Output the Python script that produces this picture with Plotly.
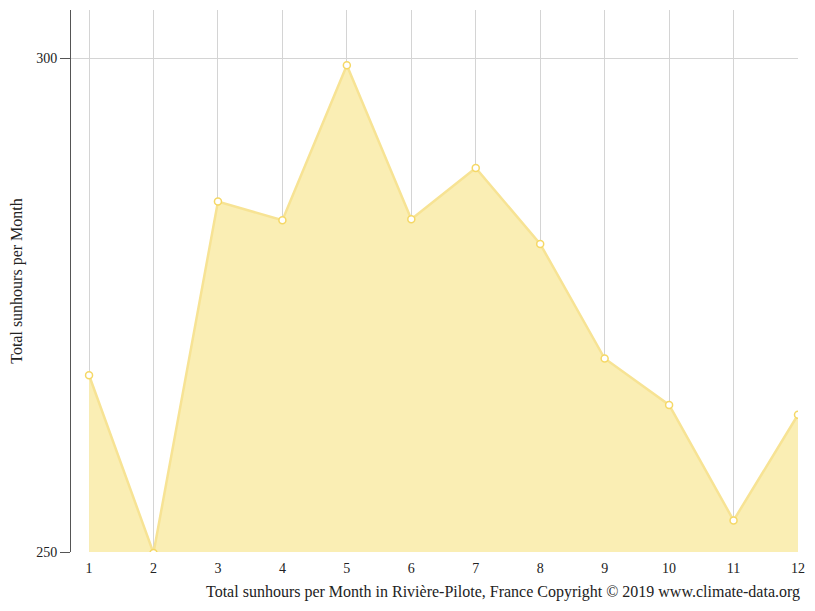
import plotly.graph_objects as go

months = [1, 2, 3, 4, 5, 6, 7, 8, 9, 10, 11, 12]
sunhours = [267.9, 249.9, 285.5, 283.6, 299.3, 283.7, 288.9, 281.2, 269.6, 264.9, 253.2, 263.9]
y_ticks = [250, 300]

fig = go.Figure(go.Scatter(
    x=months, y=sunhours,
    mode="lines+markers",
    fill="tozeroy",
    fillcolor="rgba(250,238,180,1)",
    line=dict(color="#f7e394", width=2.5),
    marker=dict(size=7, color="white", line=dict(color="#f5d866", width=1.5)),
))

fig.update_layout(
    width=807, height=603,
    margin=dict(l=63, r=17, t=2, b=59),
    plot_bgcolor="white", paper_bgcolor="white",
    font=dict(family="Liberation Serif", size=14, color="#222"),
    showlegend=False,
    xaxis=dict(range=[0.72, 12], tickvals=months, showgrid=True,
               gridcolor="#d4d4d4", zeroline=False, showline=False,
               ticks="", ticklabelstandoff=6),
    yaxis=dict(range=[250, 304.9], tickvals=y_ticks, showgrid=True,
               gridcolor="#d4d4d4", zeroline=False, showline=True,
               linecolor="#555", ticks="outside", ticklen=10, tickcolor="#555",
               title=dict(text="Total sunhours per Month", font=dict(size=16), standoff=14)),
    annotations=[dict(
        text="Total sunhours per Month in Rivière-Pilote, France Copyright © 2019 www.climate-data.org",
        xref="paper", yref="paper", x=1.005, y=-0.074, xanchor="right", yanchor="middle",
        showarrow=False, font=dict(size=16))],
)

fig.write_html("out.html")
